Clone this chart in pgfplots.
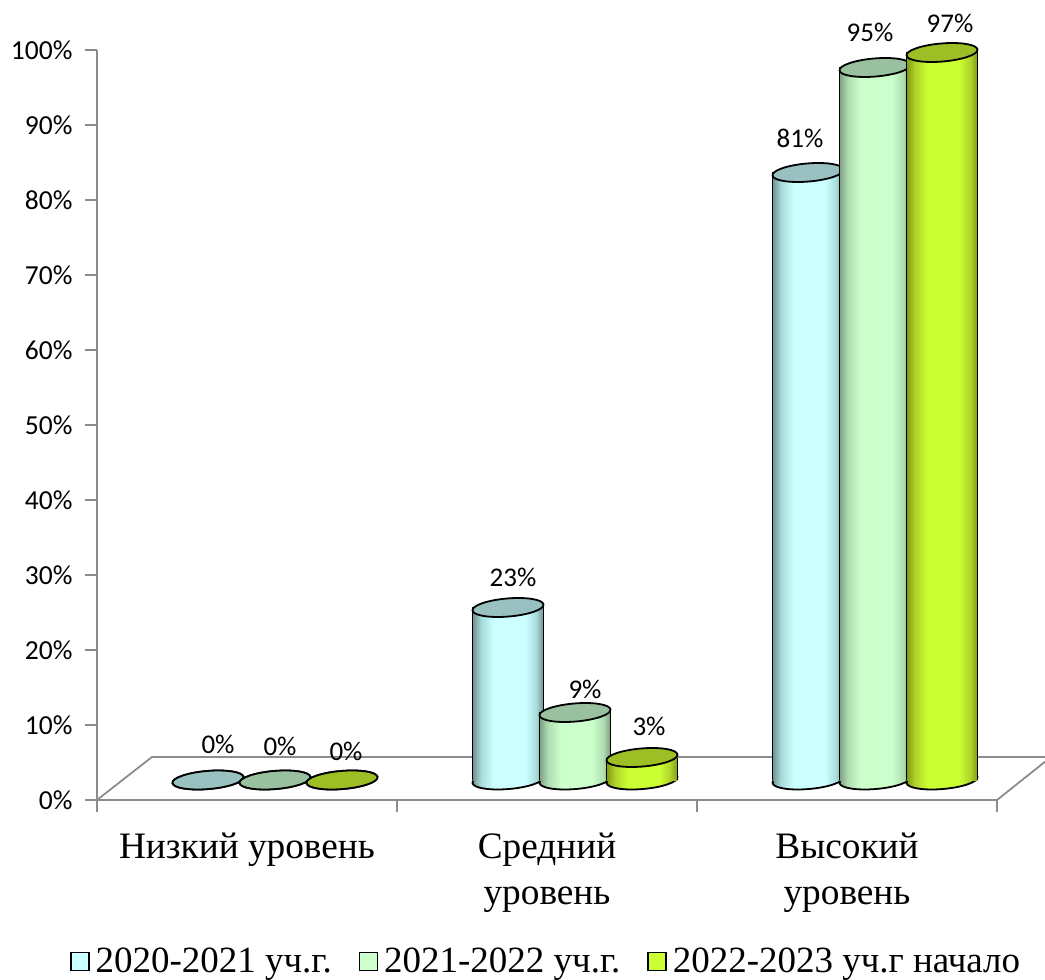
\documentclass[border=0pt]{standalone}
\usepackage{fontspec}
\setmainfont{Carlito}
\newfontfamily\timesfont{Liberation Serif}
\usepackage{pgfplots}
\usepackage{pgfplotstable}
\pgfplotsset{compat=1.18}

\definecolor{axisgray}{HTML}{8C8C8C}
\definecolor{edgeA}{HTML}{6F9090}\definecolor{midA}{HTML}{A8DADA}\definecolor{brightA}{HTML}{CCFFFF}\definecolor{topA}{HTML}{99C1C1}
\definecolor{edgeB}{HTML}{7F9F83}\definecolor{midB}{HTML}{AEDDB0}\definecolor{brightB}{HTML}{CCFFCC}\definecolor{topB}{HTML}{99C19F}
\definecolor{edgeC}{HTML}{7F9A14}\definecolor{midC}{HTML}{AED22A}\definecolor{brightC}{HTML}{CCFF33}\definecolor{topC}{HTML}{9DBE24}

% body shading and the two cylinder ends for one series
\newcommand{\defcylinder}[1]{%
  \pgfdeclarehorizontalshading{cyl#1}{100bp}{color(0bp)=(edge#1); color(25bp)=(edge#1);
    color(31bp)=(mid#1); color(40bp)=(bright#1); color(62bp)=(bright#1); color(70bp)=(mid#1);
    color(75bp)=(edge#1); color(100bp)=(edge#1)}%
  \pgfdeclareplotmark{base#1}{%
    \pgfpathellipse{\pgfpointorigin}{\pgfqpoint{35.5pt}{3pt}}{\pgfqpoint{-1pt}{9pt}}%
    \pgfshadepath{cyl#1}{0}%
    \pgfpathellipse{\pgfpointorigin}{\pgfqpoint{35.5pt}{3pt}}{\pgfqpoint{-1pt}{9pt}}%
    \pgfusepath{stroke}}%
  \pgfdeclareplotmark{top#1}{%
    \pgfsetfillcolor{top#1}%
    \pgfpathellipse{\pgfpointorigin}{\pgfqpoint{35.5pt}{3pt}}{\pgfqpoint{-1pt}{9pt}}%
    \pgfusepath{fill,stroke}}%
}
\defcylinder{A}\defcylinder{B}\defcylinder{C}

% x = group centre, y = value, base = floor level, lx/ly = label offset from the top of the cylinder
\pgfplotstableread{
x   y  base lx ly
0.5 0  0    10 36
1.5 23 0    5  30
2.5 81 0    -8 34
}\seriesA
\pgfplotstableread{
x   y  base lx ly
0.5 0  0    5  34
1.5 9  0    10 23
2.5 95 0    -5 35
}\seriesB
\pgfplotstableread{
x   y  base lx ly
0.5 0  0    4  29
1.5 3  0    7  31
2.5 97 0    8  29
}\seriesC

\newcommand{\cylinderplot}[3]{%
  \addplot[forget plot, only marks, mark=base#2, black, line width=1.8pt,
    xshift=#3pt, yshift=20pt] table[x=x,y=base] {#1};
  \foreach \r in {0,1,2} {
    \pgfplotstablegetelem{\r}{x}\of{#1}\let\cx\pgfplotsretval
    \pgfplotstablegetelem{\r}{y}\of{#1}\let\cy\pgfplotsretval
    \edef\tmp{\noexpand\addplot[forget plot, ybar, bar width=71pt, bar shift=0pt, draw=none,
      shade, shading=cyl#2, shading angle=0, xshift=#3pt, yshift=20pt]
      coordinates {(\cx,\cy)};}
    \tmp
  }
  \addplot[forget plot, ycomb, black, line width=1.8pt, no markers,
    xshift=#3pt-35.5pt, yshift=20pt] table[x=x,y=y] {#1};
  \addplot[forget plot, ycomb, black, line width=1.8pt, no markers,
    xshift=#3pt+35.5pt, yshift=20pt] table[x=x,y=y] {#1};
  \addplot[forget plot, only marks, mark=top#2, black, line width=1.8pt,
    xshift=#3pt, yshift=20pt,
    visualization depends on={\thisrow{lx} \as \lx},
    visualization depends on={\thisrow{ly} \as \ly},
    point meta=explicit symbolic,
    nodes near coords={\pgfplotspointmeta\%},
    nodes near coords align={anchor=center},
    every node near coord/.append style={xshift=\lx pt, yshift=\ly pt, text=black,
      font=\fontsize{27}{30}\selectfont}]
    table[x=x,y=y,meta=y] {#1};
}

\begin{document}
\begin{tikzpicture}
\path[use as bounding box] (-97pt,-180pt) rectangle (948pt,800pt);
\begin{axis}[
    scale only axis,
    width=900pt,
    height=750pt,
    at={(0pt,0pt)},
    anchor=south west,
    clip=false,
    clip mode=individual,
    xmin=0, xmax=3,
    ymin=0, ymax=100,
    axis lines*=left,
    axis line style={axisgray, line width=1.8pt, -},
    tick style={axisgray, line width=1.8pt},
    tick align=outside,
    major tick length=12pt,
    ytick={0,10,...,100},
    yticklabel={\pgfmathprintnumber{\tick}\%},
    y tick label style={font=\fontsize{27.5}{30}\selectfont, xshift=-9pt},
    /pgf/number format/assume math mode=true,
    xtick={0,1,2,3},
    xticklabels={},
    extra x ticks={0.5,1.5,2.5},
    extra x tick labels={{Низкий уровень},{Средний\\уровень},{Высокий\\уровень}},
    extra x tick style={major tick length=0pt,
      tick label style={font=\timesfont\fontsize{37.3}{46}\selectfont, align=center, yshift=-29pt}},
    legend style={at={(-30pt,-144pt)}, anchor=north west, draw=none, fill=none,
      legend columns=3, font=\timesfont\fontsize{37}{40}\selectfont,
      /tikz/every odd column/.append style={column sep=4pt},
      /tikz/every even column/.append style={column sep=25pt}},
    legend image code/.code={\draw[#1, line width=1.4pt] (0pt,-9pt) rectangle (18pt,9pt);},
  ]
% floor of the 3D box
\addplot[forget plot, axisgray, line width=1.8pt, no markers] coordinates {(0,0) (0.183,5.73) (3.16,5.73)};
\addplot[forget plot, axisgray, line width=1.8pt, no markers] coordinates {(3,0) (3.16,5.1)};

\cylinderplot{\seriesA}{A}{-39}
\cylinderplot{\seriesB}{B}{28}
\cylinderplot{\seriesC}{C}{95}

\addlegendimage{fill=brightA, draw=black}
\addlegendentry{2020-2021 уч.г.}
\addlegendimage{fill=brightB, draw=black}
\addlegendentry{2021-2022 уч.г.}
\addlegendimage{fill=brightC, draw=black}
\addlegendentry{2022-2023 уч.г начало}
\end{axis}
\end{tikzpicture}
\end{document}
